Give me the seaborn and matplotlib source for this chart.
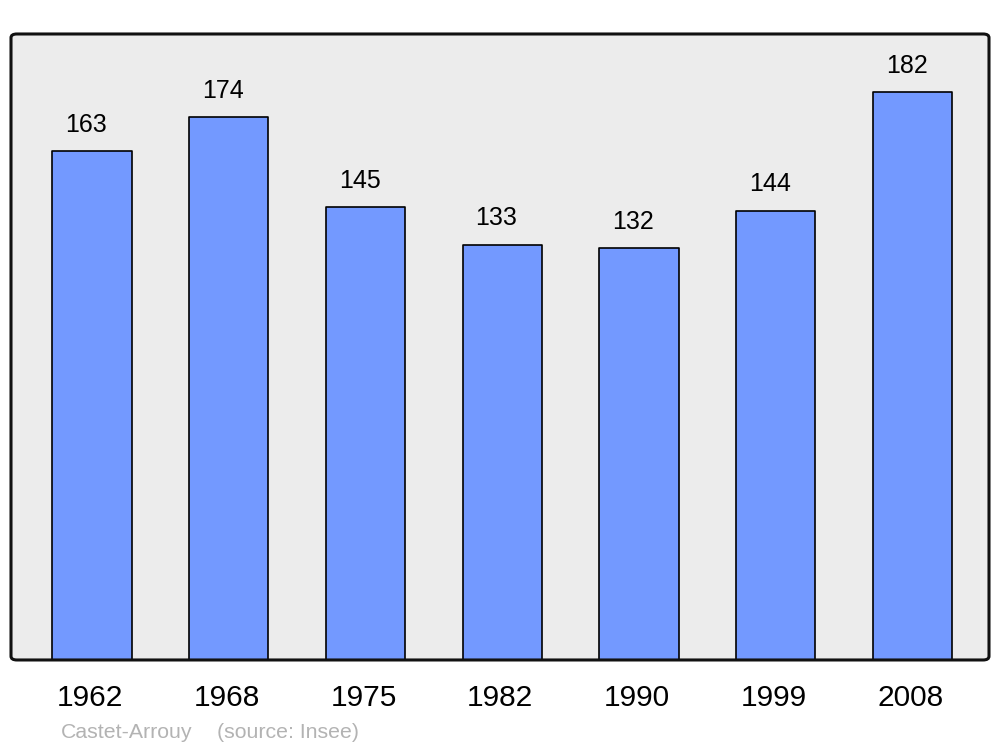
import matplotlib
matplotlib.use("Agg")
import matplotlib.pyplot as plt
import matplotlib.transforms as mtransforms
import pandas as pd
import seaborn as sns
from matplotlib.patches import FancyBboxPatch

years = ["1962", "1968", "1975", "1982", "1990", "1999", "2008"]
population = [163, 174, 145, 133, 132, 144, 182]
commune = "Castet-Arrouy"
source = "(source: Insee)"

BAR_COLOR = "#7399ff"
BG_COLOR = "#ececec"

sns.set_theme(style="white")
plt.rcParams["font.family"] = ["Liberation Sans", "DejaVu Sans"]

df = pd.DataFrame({"year": years, "population": population})

fig = plt.figure(figsize=(10, 7.47), dpi=100)
ax = fig.add_axes([0.011, 0.1165, 0.978, 0.838])
ax.set_facecolor("none")

sns.barplot(data=df, x="year", y="population", color=BAR_COLOR, saturation=1,
            edgecolor="black", linewidth=1.2, width=0.58, ax=ax, zorder=2)
for p in ax.patches:
    p.set_joinstyle("round")

for i, v in enumerate(population):
    ax.annotate(str(v), (i, v), xytext=(-4.3, 14), textcoords="offset points",
                ha="center", va="baseline", fontsize=18, color="black")

ax.set_xlim(-0.592, 6.559)
ax.set_ylim(0, 200.6)
ax.set_xlabel("")
ax.set_ylabel("")
ax.set_yticks([])
ax.tick_params(axis="x", length=0, pad=17.5, labelsize=21.5, colors="black")
shift = mtransforms.ScaledTranslation(-2 / 100, 0, fig.dpi_scale_trans)
for lbl in ax.get_xticklabels():
    lbl.set_transform(lbl.get_transform() + shift)
for s in ax.spines.values():
    s.set_visible(False)

# rounded background and frame
bg = FancyBboxPatch((0, 0), 1, 1, boxstyle="round,pad=0,rounding_size=0.006",
                    transform=ax.transAxes, facecolor=BG_COLOR, edgecolor="none",
                    zorder=0, clip_on=False)
frame = FancyBboxPatch((0, 0), 1, 1, boxstyle="round,pad=0,rounding_size=0.006",
                       transform=ax.transAxes, facecolor="none", edgecolor="#111111",
                       linewidth=2.2, zorder=5, clip_on=False)
ax.add_patch(bg)
ax.add_patch(frame)

fig.text(0.061, 0.012, commune, fontsize=15.3, color="#b3b3b3", va="baseline")
fig.text(0.217, 0.012, source, fontsize=15.3, color="#b3b3b3", va="baseline")

fig.savefig("out.png", dpi=100)
